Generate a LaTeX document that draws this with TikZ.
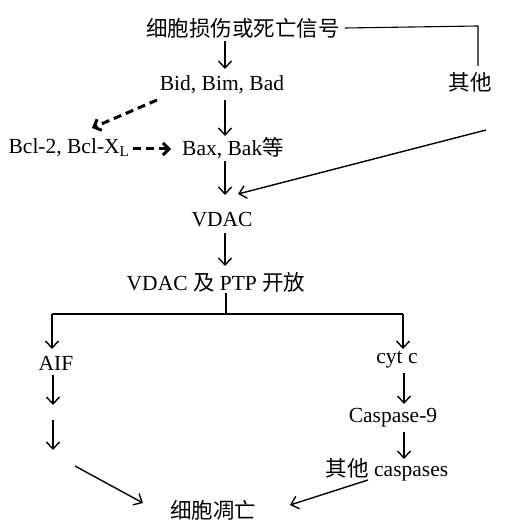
\documentclass[tikz,border=0pt]{standalone}
\usepackage{fontspec}
\setmainfont{Liberation Serif}
\newfontfamily\cjk{Noto Sans CJK SC}
\usetikzlibrary{arrows.meta}
\begin{document}
\begin{tikzpicture}[x=1pt,y=-1pt,
  txt/.style={inner sep=1pt,font=\fontsize{21.5}{23}\selectfont},
  arr/.style={line width=1.4pt,-{Straight Barb[length=7pt,width=13pt,line width=1.4pt]}},
  dash arr/.style={line width=3pt,dash pattern=on 8pt off 5pt,-{Straight Barb[length=6pt,width=12pt,line width=3pt]}},
  plain/.style={line width=1.1pt}]
\useasboundingbox (0,0) rectangle (520,521);
\node[txt] (sig) at (243,28) {\cjk 细胞损伤或死亡信号};
\node[txt] (other) at (470,82) {\cjk 其他};
\node[txt] (bid) at (222,85) {Bid, Bim, Bad};
\node[txt] (bcl) at (69,148) {Bcl-2, Bcl-X\textsubscript{L}};
\node[txt] (bax) at (233,148) {Bax, Bak{\cjk 等}};
\node[txt] (vdac) at (222,220) {VDAC};
\node[txt] (ptp) at (216,282) {VDAC {\cjk 及} PTP {\cjk 开放}};
\node[txt] (aif) at (56,363) {AIF};
\node[txt] (cytc) at (397,360) {cyt c};
\node[txt] (casp9) at (393,418) {Caspase-9};
\node[txt] (ocasp) at (387,470) {{\cjk 其他} caspases};
\node[txt] (apop) at (213,510) {\cjk 细胞凋亡};
% helper coordinates
\coordinate (ax) at (225,0);
\coordinate (corner) at (478,26);
\coordinate (otherTop) at (478,66);
\coordinate (longStart) at (486,130);
\coordinate (longEnd) at (238,194);
\coordinate (dStart) at (157,100);
\coordinate (dEnd) at (92,128);
\coordinate (d2Start) at (133,149);
\coordinate (d2End) at (171,149);
\coordinate (split) at (226,314);
\coordinate (aifA) at (53,375);
\coordinate (aifB) at (53,405);
\coordinate (aifC) at (53,420);
\coordinate (aifD) at (53,450);
\coordinate (aifE) at (75,466);
\coordinate (apL) at (143,503);
\coordinate (ocE) at (368,480);
\coordinate (apR) at (290,505);
% connectors
\draw[plain] ([xshift=4pt]sig.east) -- (corner) -- (otherTop);
\draw[arr] (sig.south -| ax) ++(0,2) -- (225,69);
\draw[arr] (225,100) -- (225,136);
\draw[arr] (225,161) -- (225,195);
\draw[arr] (longStart) -- (longEnd);
\draw[dash arr] (dStart) -- (dEnd);
\draw[dash arr] (d2Start) -- (d2End);
\draw[arr] (225,233) -- (225,266);
\draw[plain] (ptp.south -| split) -- (split);
\draw[plain] (52,314) -- (403,314);
\draw[arr] (52,314) -- (52,349);
\draw[arr] (403,314) -- (403,349);
\draw[arr] (aifA) -- (aifB);
\draw[arr] (aifC) -- (aifD);
\draw[arr] (404,373) -- (404,404);
\draw[arr] (404,432) -- (404,459);
\draw[arr] (aifE) -- (apL);
\draw[arr] (ocE) -- (apR);
\end{tikzpicture}
\end{document}
